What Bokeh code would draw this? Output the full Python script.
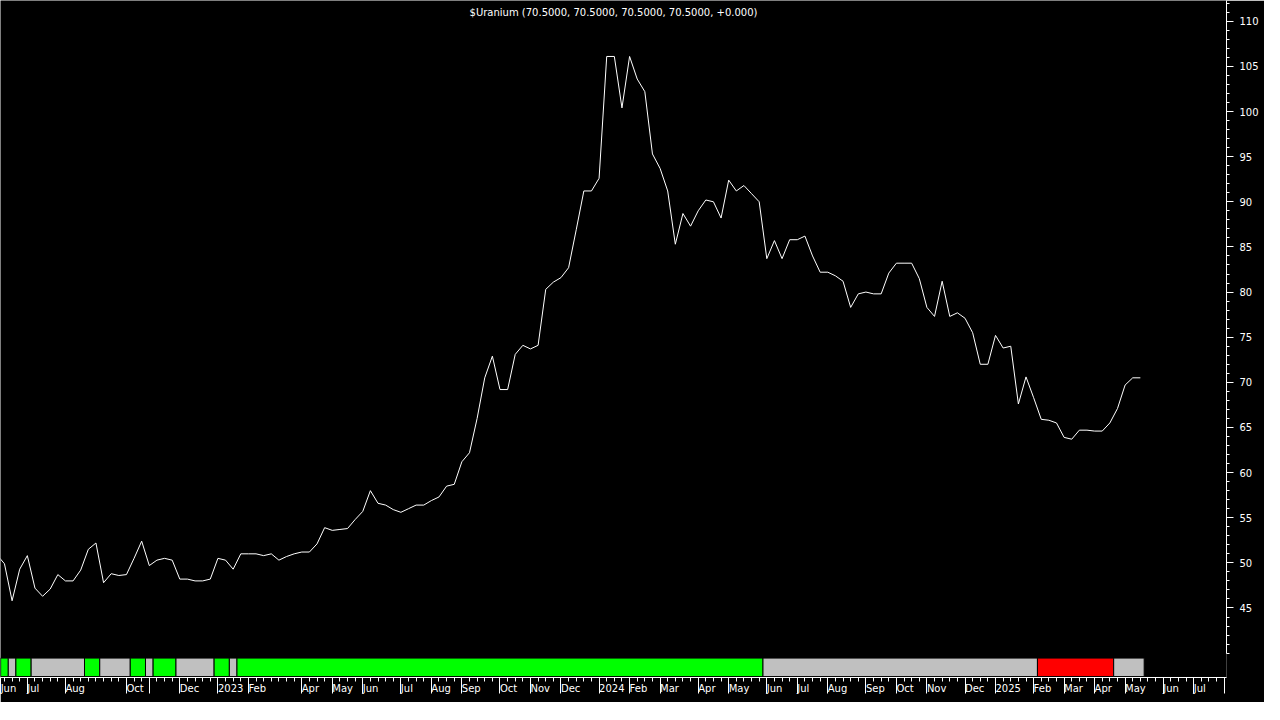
from bokeh.plotting import figure
from bokeh.models import Range1d, FixedTicker, Label
from bokeh.embed import file_html
from bokeh.resources import INLINE

TITLE = "$Uranium (70.5000, 70.5000, 70.5000, 70.5000, +0.000)"

# weekly closes, first value is the week just before the visible window
PRICE = [
    50.9,
    49.9, 45.8, 49.3, 50.8, 47.2, 46.3, 47.1, 48.7, 48.0, 48.0,
    49.2, 51.5, 52.2, 47.8, 48.8, 48.6, 48.7, 50.5, 52.4, 49.7,
    50.3, 50.5, 50.3, 48.2, 48.2, 48.0, 48.0, 48.2, 50.5, 50.3,
    49.3, 51.0, 51.0, 51.0, 50.8, 51.0, 50.3, 50.7, 51.0, 51.2,
    51.2, 52.1, 53.9, 53.6, 53.7, 53.8, 54.8, 55.7, 58.0, 56.6,
    56.4, 55.9, 55.6, 56.0, 56.4, 56.4, 56.9, 57.3, 58.5, 58.7,
    61.2, 62.2, 66.0, 70.5, 72.9, 69.2, 69.2, 73.1, 74.1, 73.7,
    74.1, 80.3, 81.1, 81.6, 82.7, 86.9, 91.2, 91.2, 92.6, 106.1,
    106.1, 100.4, 106.1, 103.6, 102.2, 95.3, 93.7, 91.2, 85.3, 88.7,
    87.3, 89.0, 90.2, 90.0, 88.2, 92.4, 91.2, 91.8, 90.9, 90.0,
    83.7, 85.7, 83.7, 85.8, 85.8, 86.2, 84.0, 82.2, 82.2, 81.8,
    81.2, 78.3, 79.8, 80.0, 79.8, 79.8, 82.1, 83.2, 83.2, 83.2,
    81.5, 78.3, 77.3, 81.2, 77.3, 77.7, 77.1, 75.5, 72.0, 72.0,
    75.2, 73.8, 74.0, 67.6, 70.6, 68.3, 65.9, 65.8, 65.5, 63.9,
    63.7, 64.7, 64.7, 64.6, 64.6, 65.5, 67.1, 69.7, 70.5, 70.5,
]

# trend band: state and number of weeks in each run
BAND_STATES = ["up", "neutral", "up", "neutral", "up", "neutral", "up", "neutral",
               "up", "neutral", "up", "neutral", "up", "neutral", "down", "neutral"]
BAND_WEEKS = [1, 1, 2, 7, 2, 4, 2, 1, 3, 5, 2, 1, 69, 36, 10, 4]
BAND_COLORS = {"up": "#00ff00", "neutral": "#c0c0c0", "down": "#ff0000"}

# month ticks (bar index) and labels
MONTH_TICKS = [-0.5, 3, 8, 16, 19, 23, 28, 32, 39, 43, 47, 52, 56, 60, 65, 69, 73, 78,
               82, 86, 91, 95, 100, 104, 108, 113, 117, 121, 126, 130, 135, 139, 143,
               147, 152, 156, 160]
MONTH_LABELS = ["Jun", "Jul", "Aug", "Oct", "", "Dec", "2023", "Feb", "Apr", "May", "Jun",
                "Jul", "Aug", "Sep", "Oct", "Nov", "Dec", "2024", "Feb", "Mar", "Apr",
                "May", "Jun", "Jul", "Aug", "Sep", "Oct", "Nov", "Dec", "2025", "Feb",
                "Mar", "Apr", "May", "Jun", "Jul", ""]

Y_TICKS = [45, 50, 55, 60, 65, 70, 75, 80, 85, 90, 95, 100, 105, 110]

FONT = "DejaVu Sans"
X_START, X_END = -0.52, 160.3
Y_START, Y_END = 37.3, 112.3
BAND_TOP, BAND_BOTTOM = 39.45, 37.4

p = figure(frame_width=1226, frame_height=677,
           x_range=Range1d(X_START, X_END), y_range=Range1d(Y_START, Y_END),
           y_axis_location="right", output_backend="svg", toolbar_location=None,
           background_fill_color="black", border_fill_color="black",
           outline_line_color=None, min_border_left=0, min_border_right=38,
           min_border_top=0, min_border_bottom=0)
p.grid.visible = False

x_idx = list(range(-1, len(PRICE) - 1))
p.line(x=x_idx, y=PRICE, line_color="white", line_width=1)

# band
lefts, rights, colors = [], [], []
start = 0
for st, n in zip(BAND_STATES, BAND_WEEKS):
    lefts.append(start - 0.5)
    rights.append(start + n - 0.5)
    colors.append(BAND_COLORS[st])
    start += n
p.quad(left=lefts, right=rights, top=BAND_TOP, bottom=BAND_BOTTOM,
       fill_color=colors, line_color="black", line_width=1)

# title
p.add_layout(Label(x=(X_START + X_END) / 2, y=Y_END - 1.3, text=TITLE,
                   text_align="center", text_baseline="middle",
                   text_color="white", text_font=FONT, text_font_size="10px"))

# y axis
yax = p.yaxis[0]
yax.ticker = FixedTicker(ticks=Y_TICKS, minor_ticks=list(range(40, 113)))
yax.bounds = (40, Y_END)
yax.axis_line_color = "white"
yax.major_tick_line_color = "white"
yax.minor_tick_line_color = "white"
yax.major_tick_in = 0
yax.major_tick_out = 7
yax.minor_tick_in = 0
yax.minor_tick_out = 3
yax.major_label_standoff = 6
yax.major_label_text_color = "white"
yax.major_label_text_font = FONT
yax.major_label_text_font_size = "10px"

# x axis: month names sit to the right of each long tick
xax = p.xaxis[0]
xax.ticker = FixedTicker(ticks=MONTH_TICKS, minor_ticks=list(range(0, 161)))
xax.major_label_overrides = {t: lab for t, lab in zip(MONTH_TICKS, MONTH_LABELS)}
xax.major_label_orientation = -0.0001
xax.axis_line_color = "white"
xax.major_tick_line_color = "white"
xax.minor_tick_line_color = "white"
xax.major_tick_in = 0
xax.major_tick_out = 16
xax.minor_tick_in = 0
xax.minor_tick_out = 4
xax.major_label_standoff = -5
xax.major_label_text_color = "white"
xax.major_label_text_font = FONT
xax.major_label_text_font_size = "10px"

open("out.html", "w").write(file_html(p, INLINE))
